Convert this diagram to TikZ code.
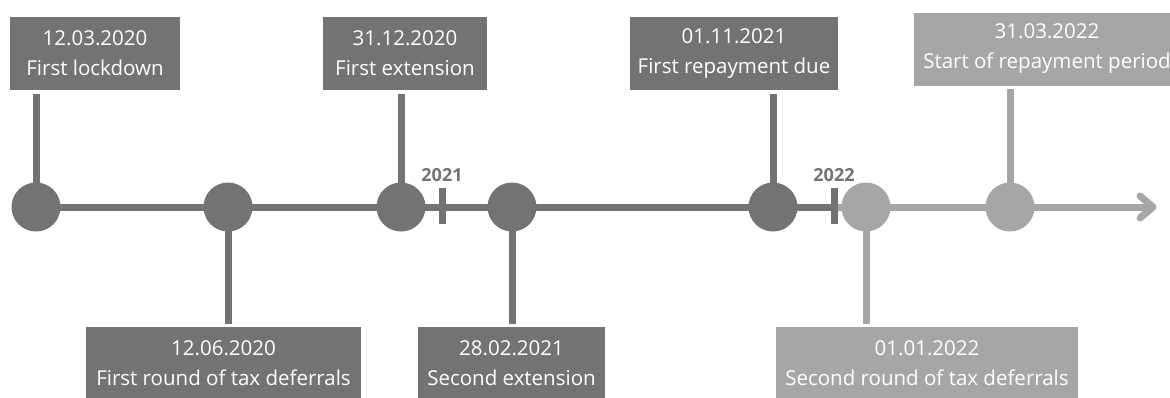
\documentclass[tikz,border=0pt]{standalone}
\usepackage{fontspec}
\setmainfont{Open Sans}
\usetikzlibrary{calc}
\definecolor{darkgrey}{HTML}{737373}
\definecolor{lightgrey}{HTML}{A6A6A6}

\begin{document}
\begin{tikzpicture}[x=1pt,y=-1pt,line width=7pt,
	dot/.style={circle,fill=#1,minimum size=49pt,inner sep=0pt,outer sep=0pt},
	event/.style={fill=#1,text=white,align=center,minimum height=73pt,inner sep=0pt,
		font=\fontsize{20.5}{30}\selectfont},
	yearlabel/.style={above,inner sep=3pt,text=darkgrey,font=\fontsize{18}{20}\selectfont\bfseries}]
	\useasboundingbox (0,0) rectangle (1170,397);

	% dates on the line
	\node[dot=darkgrey]  (c1) at (36,207) {};
	\node[dot=darkgrey]  (c2) at (228,207) {};
	\node[dot=darkgrey]  (c3) at (401,207) {};
	\node[dot=darkgrey]  (c4) at (512,207) {};
	\node[dot=darkgrey]  (c5) at (773,207) {};
	\node[dot=lightgrey] (c6) at (866,207) {};
	\node[dot=lightgrey] (c7) at (1010,207) {};
	\coordinate (t21) at (442,207);
	\coordinate (t22) at (834,207);
	\coordinate (tip) at (1153,207);

	% event boxes
	\node[event=darkgrey,minimum width=170pt]  (b1) at (95,53.5) {12.03.2020\\First lockdown};
	\node[event=darkgrey,minimum width=164pt]  (b2) at (405,53.5) {31.12.2020\\First extension};
	\node[event=darkgrey,minimum width=208pt]  (b3) at (734,53.5) {01.11.2021\\First repayment due};
	\node[event=lightgrey,minimum width=266pt] (b4) at (1047,49) {31.03.2022\\Start of repayment period};
	\node[event=darkgrey,minimum width=275pt]  (b5) at (223.5,363.5) {12.06.2020\\First round of tax deferrals};
	\node[event=darkgrey,minimum width=187pt]  (b6) at (511.5,363.5) {28.02.2021\\Second extension};
	\node[event=lightgrey,minimum width=302pt] (b7) at (927,363.5) {01.01.2022\\Second round of tax deferrals};

	% time line
	\draw[darkgrey] (c1.center) -- (c2.center) -- (c3.center) -- (t21) -- (c4.center) -- (c5.center) -- (t22);
	\draw[lightgrey] (t22) -- (c6.center) -- (c7.center) -- (tip);
	\draw[lightgrey,line cap=round,line join=round] ($(tip)+(-13,-11)$) -- (tip) -- ($(tip)+(-13,11)$);

	% year ticks
	\draw[darkgrey] ($(t21)+(0,-19)$) -- ($(t21)+(0,17)$) node[pos=0,yearlabel] {2021};
	\draw[darkgrey] ($(t22)+(0,-19)$) -- ($(t22)+(0,17)$) node[pos=0,yearlabel] {2022};

	% stems
	\draw[darkgrey] (c1 |- b1.south) -- (c1.center);
	\draw[darkgrey] (c3 |- b2.south) -- (c3.center);
	\draw[darkgrey] (c5 |- b3.south) -- (c5.center);
	\draw[lightgrey] (c7 |- b4.south) -- (c7.center);
	\draw[darkgrey] (c2 |- b5.north) -- (c2.center);
	\draw[darkgrey] (c4 |- b6.north) -- (c4.center);
	\draw[lightgrey] (c6 |- b7.north) -- (c6.center);
\end{tikzpicture}
\end{document}
